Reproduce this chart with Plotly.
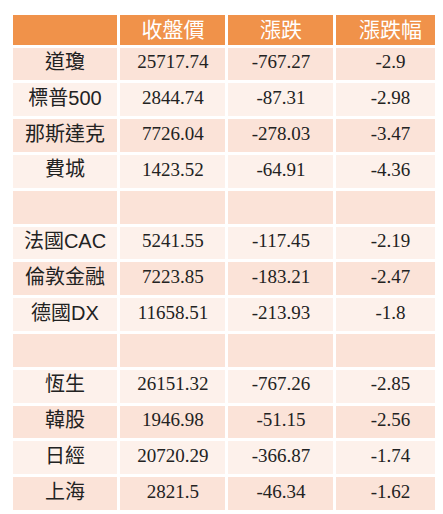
import plotly.graph_objects as go

header = ["", "收盤價", "漲跌", "漲跌幅"]
names = ["道瓊", "標普500", "那斯達克", "費城", "", "法國CAC", "倫敦金融", "德國DX", "", "恆生", "韓股", "日經", "上海"]
close = ["25717.74", "2844.74", "7726.04", "1423.52", "", "5241.55", "7223.85", "11658.51", "", "26151.32", "1946.98", "20720.29", "2821.5"]
change = ["-767.27", "-87.31", "-278.03", "-64.91", "", "-117.45", "-183.21", "-213.93", "", "-767.26", "-51.15", "-366.87", "-46.34"]
pct = ["-2.9", "-2.98", "-3.47", "-4.36", "", "-2.19", "-2.47", "-1.8", "", "-2.85", "-2.56", "-1.74", "-1.62"]

fills = ["#FBE3D8" if i % 2 == 0 else "#FDF1EB" for i in range(len(names))]

fig = go.Figure(go.Table(
    columnwidth=[107, 107, 107, 110],
    header=dict(values=header, fill_color="#F0924A", line=dict(color="white", width=3),
                font=dict(color="white", size=21, family="Noto Sans CJK TC"), align="center", height=33),
    cells=dict(values=[names, close, change, pct], fill_color=[fills] * 4,
               line=dict(color="white", width=3),
               font=dict(color="#222222", size=[20, 19, 19, 19],
                         family=["Liberation Sans, Noto Sans CJK TC", "Liberation Serif", "Liberation Serif", "Liberation Serif"]),
               align="center", height=35.8),
))
fig.update_layout(width=443, height=514, margin=dict(l=3, r=5, t=5, b=0), paper_bgcolor="white")
fig.write_html("out.html")
